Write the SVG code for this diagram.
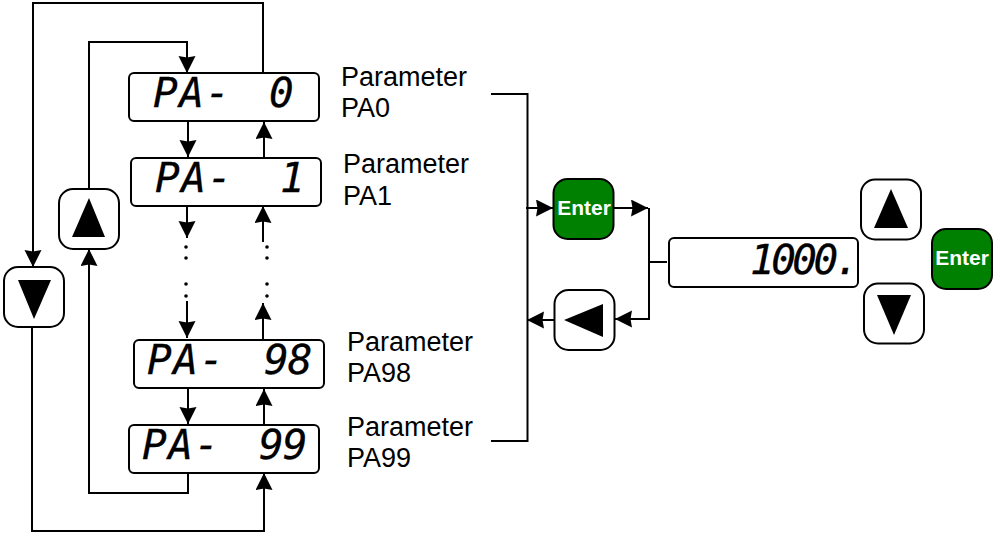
<svg xmlns="http://www.w3.org/2000/svg" width="994" height="537" viewBox="0 0 994 537">
<style>
.box{fill:#fff;stroke:#000;stroke-width:2}
.btn{fill:#fff;stroke:#000;stroke-width:2}
.green{fill:#008000;stroke:#000;stroke-width:2}
.ent{font:bold 21px "Liberation Sans",Arial,sans-serif;fill:#fff;text-anchor:middle}
.lab{font:27px "Liberation Sans",Arial,sans-serif;fill:#000}
.seg{font:italic 41px "DejaVu Sans Mono","Liberation Mono",monospace;fill:#000;stroke:#000;stroke-width:.3;letter-spacing:1.500px}
.c{fill:none;stroke:#000;stroke-width:2}
.a{stroke:none;fill:#000}
</style>
<defs>
<marker id="ah" markerUnits="userSpaceOnUse" markerWidth="18" markerHeight="18" refX="17" refY="8.500" orient="auto" viewBox="0 0 18 18"><path d="M0 0L17 8.500L0 17L1.500 8.500Z" fill="#000"/></marker>
</defs>
<g id="connectors">
<path class="c" d="M263 73V3H33V267" marker-end="url(#ah)"/>
<path class="c" d="M89 189V42H187V73" marker-end="url(#ah)"/>
<path class="c" d="M188 122V157" marker-end="url(#ah)"/>
<path class="c" d="M264 158V122" marker-end="url(#ah)"/>
<path class="c" d="M187 207V238" marker-end="url(#ah)"/>
<path class="c" d="M263 242V206" marker-end="url(#ah)"/>
<path class="c" d="M187 301V338" marker-end="url(#ah)"/>
<path class="c" d="M263 339V303" marker-end="url(#ah)"/>
<path class="c" d="M188 388V424" marker-end="url(#ah)"/>
<path class="c" d="M264 424V389" marker-end="url(#ah)"/>
<path class="c" d="M188 473V493H89V249" marker-end="url(#ah)"/>
<path class="c" d="M32 328V531H264V473" marker-end="url(#ah)"/>
<path class="c" d="M491 94H527.500V441H491"/>
<path class="c" d="M526 208H553" marker-end="url(#ah)"/>
<path class="c" d="M614 208H648" marker-end="url(#ah)"/>
<path class="c" d="M649 208V319H615" marker-end="url(#ah)"/>
<path class="c" d="M649 262H667"/>
<path class="c" d="M554 320H527" marker-end="url(#ah)"/>
<circle class="a" cx="186" cy="247" r="1.800"/><circle class="a" cx="186" cy="258" r="1.800"/><circle class="a" cx="186" cy="284" r="1.800"/><circle class="a" cx="186" cy="296" r="1.800"/>
<circle class="a" cx="267" cy="247" r="1.800"/><circle class="a" cx="267" cy="258" r="1.800"/><circle class="a" cx="267" cy="284" r="1.800"/><circle class="a" cx="267" cy="296" r="1.800"/>
</g>
<g id="pa0"><rect class="box" x="129" y="73" width="190" height="48" rx="5"/><text class="seg" x="153" y="107">PA-</text><text class="seg" x="269" y="107">0</text></g>
<g id="pa1"><rect class="box" x="131" y="158" width="190" height="48" rx="5"/><text class="seg" x="155" y="192">PA-</text><text class="seg" x="280" y="192">1</text></g>
<g id="pa98"><rect class="box" x="134" y="340" width="190" height="48" rx="5"/><text class="seg" x="147" y="374">PA-</text><text class="seg" x="264" y="374" style="letter-spacing:-1px">98</text></g>
<g id="pa99"><rect class="box" x="129" y="425" width="190" height="48" rx="5"/><text class="seg" x="142" y="459">PA-</text><text class="seg" x="259" y="459" style="letter-spacing:-1px">99</text></g>
<g id="display"><rect class="box" x="669" y="238" width="189" height="49" rx="5"/><text class="seg" x="750" y="274" style="letter-spacing:-3.500px">1000.</text></g>
<g id="label-pa0"><text class="lab" x="341" y="86">Parameter</text><text class="lab" x="341" y="117">PA0</text></g>
<g id="label-pa1"><text class="lab" x="343" y="173">Parameter</text><text class="lab" x="343" y="205">PA1</text></g>
<g id="label-pa98"><text class="lab" x="347" y="351">Parameter</text><text class="lab" x="347" y="382">PA98</text></g>
<g id="label-pa99"><text class="lab" x="347" y="436">Parameter</text><text class="lab" x="347" y="467">PA99</text></g>
<g id="btn-up-left"><rect class="btn" x="59" y="189" width="60" height="60" rx="14"/><path class="a" d="M89 198L105 237H72Z"/></g>
<g id="btn-down-left"><rect class="btn" x="4" y="267" width="60" height="60" rx="14"/><path class="a" d="M18 280H51L34 319Z"/></g>
<g id="btn-enter-mid"><rect class="green" x="553.500" y="179" width="60" height="60" rx="14"/><text class="ent" x="584" y="214.500">Enter</text></g>
<g id="btn-left"><rect class="btn" x="554.500" y="290" width="60" height="60" rx="14"/><path class="a" d="M564 320L603 304V337Z"/></g>
<g id="btn-up-right"><rect class="btn" x="861" y="179.500" width="60" height="60" rx="14"/><path class="a" d="M891 189L908 228H874Z"/></g>
<g id="btn-down-right"><rect class="btn" x="864" y="283.500" width="60" height="60" rx="14"/><path class="a" d="M877 295H911L894 335Z"/></g>
<g id="btn-enter-right"><rect class="green" x="932" y="229" width="60" height="60" rx="14"/><text class="ent" x="962" y="265">Enter</text></g>
</svg>
